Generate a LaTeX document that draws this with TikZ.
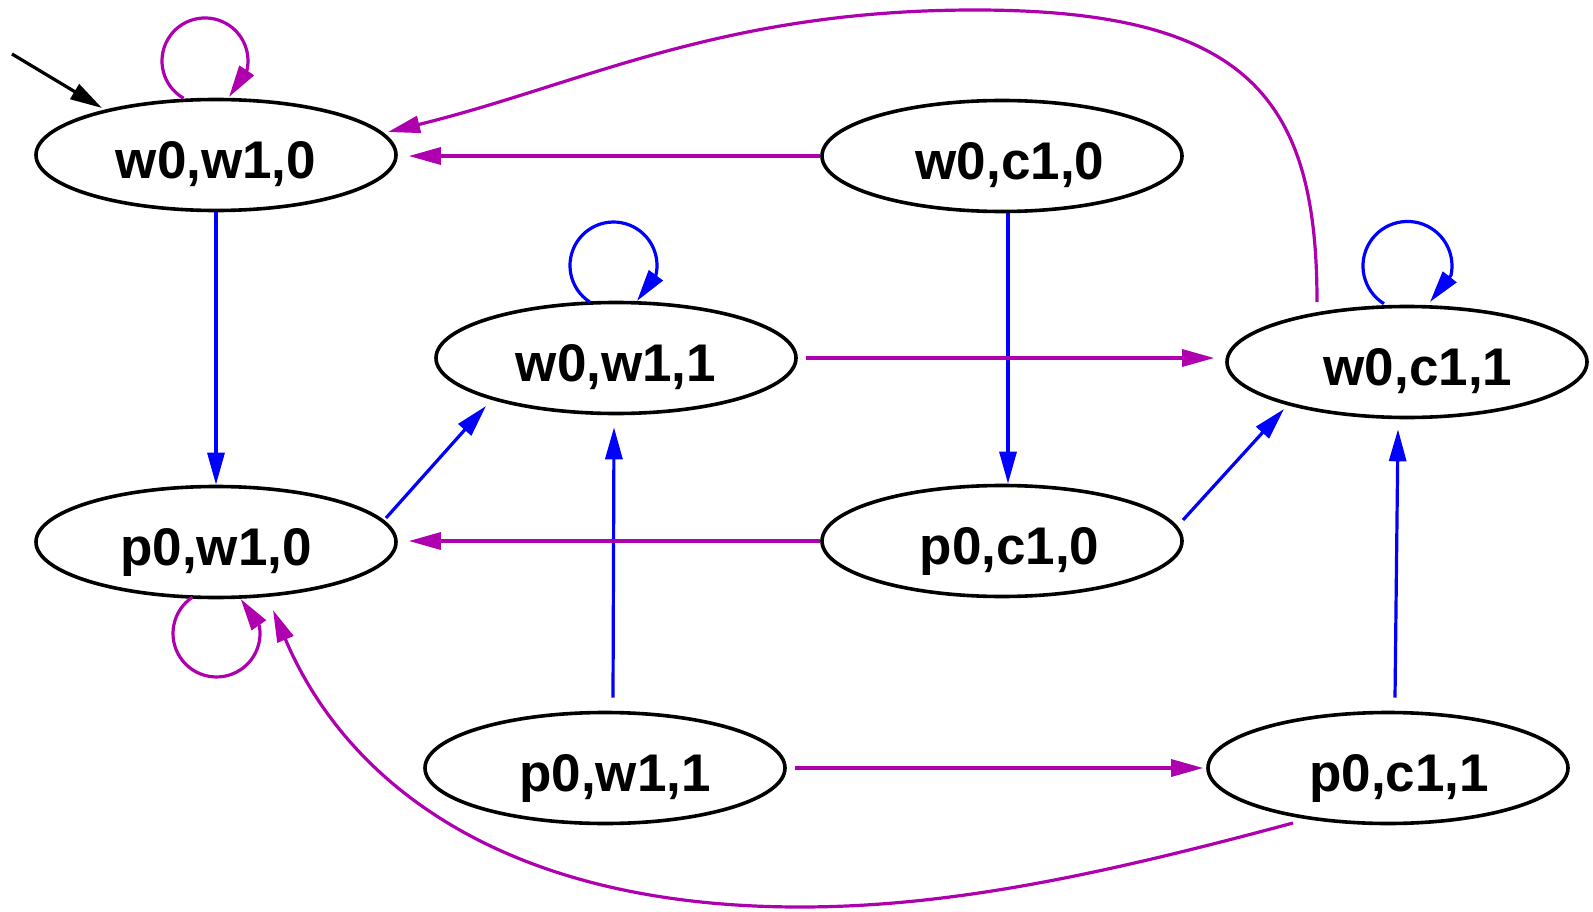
\documentclass[tikz,border=0pt]{standalone}
\usepackage{fontspec}
\setmainfont{Liberation Sans}
\usetikzlibrary{arrows.meta,shapes.geometric}
\definecolor{mag}{RGB}{174,0,174}
\definecolor{blu}{RGB}{0,0,255}
\newcommand{\lbl}[2]{\hspace*{#1pt}#2}
\begin{document}
\begin{tikzpicture}[x=1pt,y=1pt,
  state/.style={ellipse,draw=black,line width=3.6pt,minimum width=360pt,minimum height=111pt,inner sep=0pt,
    font=\fontsize{53}{53}\selectfont\bfseries,text height=47pt,text depth=0pt},
  edge/.style={line width=3.2pt,-{Triangle[length=32pt,width=17pt]}},
  me/.style={edge,draw=mag},
  be/.style={edge,draw=blu},
  ke/.style={edge,draw=black}]
\useasboundingbox (0,0) rectangle (1593,-912);
\node[state] (A) at (216,-155) {w0,w1,0};
\node[state] (B) at (1002,-156) {\lbl{16}{w0,c1,0}};
\node[state] (C) at (616,-358) {w0,w1,1};
\node[state] (D) at (1407,-362) {\lbl{22}{w0,c1,1}};
\node[state] (E) at (216,-542) {p0,w1,0};
\node[state] (F) at (1002,-541) {\lbl{15}{p0,c1,0}};
\node[state] (G) at (605,-768) {\lbl{20}{p0,w1,1}};
\node[state] (H) at (1388,-768) {\lbl{22}{p0,c1,1}};
% start arrow
\coordinate (s) at (12,-54);
\draw[ke] (s) -- ([shift={(-114,47)}]A.center);
% loops
\draw[me] ([shift={(-32.5,56.8)}]A.center) arc[start angle=240,end angle=-12,radius=43] -- ([shift={(13,58)}]A.center);
\draw[be] ([shift={(-26.2,56)}]C.center) arc[start angle=237,end angle=-13,radius=43.5] -- ([shift={(21,57)}]C.center);
\draw[be] ([shift={(-23.1,58.3)}]D.center) arc[start angle=238,end angle=-12,radius=44.5] -- ([shift={(23,60)}]D.center);
\draw[me] ([shift={(-23.5,-55.2)}]E.center) arc[start angle=123.5,end angle=370,radius=43.5] -- ([shift={(24.7,-57)}]E.center);
% straight edges
\draw[me] (B.west) -- ([shift={(11,-1)}]A.east);
\draw[be] (A.south) -- (E.north);
\draw[be] ([xshift=6]B.south) -- ([xshift=6]F.north);
\draw[me] ([xshift=8]C.east) -- ([shift={(-11,4)}]D.west);
\draw[be] ([shift={(170,24)}]E.center) -- ([shift={(-130,-48)}]C.center);
\draw[be] ([shift={(8,13)}]G.north) -- ([shift={(-2,-12)}]C.south);
\draw[me] (F.west) -- ([shift={(11,1)}]E.east);
\draw[be] ([shift={(181,21)}]F.center) -- ([shift={(-123,-47)}]D.center);
\draw[be] ([shift={(7,13)}]H.north) -- ([shift={(-9,-10)}]D.south);
\draw[me] ([xshift=8]G.east) -- ([xshift=-3]H.west);
% curves
\draw[me] ([shift={(-90,60)}]D.center) .. controls (1317,-100) and (1250,-10) .. (975,-10)
  .. controls (720,-10) and (580,-85) .. ([shift={(172,23)}]A.center);
\draw[me] ([shift={(-95,-55)}]H.center) .. controls (1100,-875) and (950,-907) .. (800,-907)
  .. controls (500,-907) and (345,-780) .. ([shift={(57,-68)}]E.center);
\end{tikzpicture}
\end{document}
